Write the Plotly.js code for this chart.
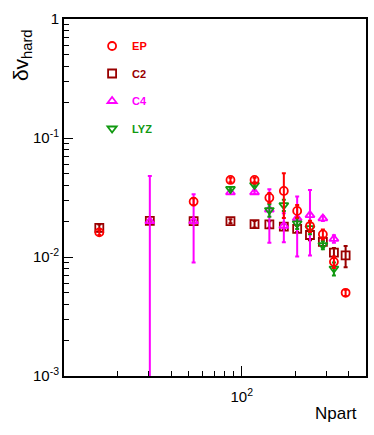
<!DOCTYPE html>
<html>
<head>
<meta charset="utf-8">
<script src="https://cdn.plot.ly/plotly-3.0.1.min.js"></script>
<style>html,body{margin:0;padding:0;background:#fff;}#chart{width:374px;height:435px;}</style>
</head>
<body>
<div id="chart"></div>
<script>
// Npart positions of the centrality bins
var npart = [15.8, 30.4, 53.6, 86.4, 118, 143, 172.5, 205, 242, 286, 330, 384];

// EP
var epVal   = [0.0161, null, 0.0292, 0.0444, 0.0444, 0.0315, 0.0359, 0.0244, 0.0182, 0.0155, 0.0091, 0.0050];
var epErr   = [0.0008, null, 0.0020, 0.0020, 0.0020, 0.0030, 0.0146, 0.0030, 0.0020, 0.0015, 0.0010, 0.0003];
// C2
var c2Val   = [0.0176, 0.0201, 0.0200, 0.0200, 0.0189, 0.0188, 0.0180, 0.0172, 0.0153, 0.0134, 0.0109, 0.0103];
var c2Err   = [0.0012, 0.0005, 0.0005, 0.0008, 0.0012, 0.0012, 0.0010, 0.0010, 0.0015, 0.0012, 0.0010, 0.0021];
// C4
var c4Val   = [null, 0.0200, 0.0200, 0.0349, 0.0350, 0.0250, 0.0183, 0.0212, 0.0225, 0.0211, 0.0142, null];
var c4ErrUp = [null, 0.0280, 0.0136, 0.0010, 0.0010, 0.0121, 0.0050, 0.0110, 0.0140, 0.0010, 0.0010, null];
var c4ErrDn = [null, 0.0280, 0.0110, 0.0010, 0.0010, 0.0118, 0.0050, 0.0111, 0.0122, 0.0010, 0.0010, null];
// LYZ
var lyzVal  = [null, null, null, 0.0373, 0.0403, 0.0248, 0.0273, 0.0192, 0.0175, 0.0126, 0.0080, null];
var lyzErr  = [null, null, null, 0.0010, 0.0010, 0.0030, 0.0030, 0.0020, 0.0020, 0.0010, 0.0010, null];

var yTickVals = [1, 0.1, 0.01, 0.001];
var yTickText = ['1', '10<sup>-1</sup>', '10<sup>-2</sup>', '10<sup>-3</sup>'];
var xTickVals = [100];
var xTickText = ['10<sup>2</sup>'];
var xMinor = [20, 30, 40, 50, 60, 70, 80, 90, 200, 300, 400];
var yMinor = [];
[0.001, 0.01, 0.1].forEach(function (d) { for (var k = 2; k <= 9; k++) yMinor.push(d * k); });

var cEP = '#ff0000', cC2 = '#990000', cC4 = '#ff00ff', cLYZ = '#119911';

function tr(name, color, symbol, y, errUp, errDn, rank) {
  return {
    type: 'scatter', mode: 'markers', x: npart, y: y, name: name,
    legendrank: rank, legendgroup: 'g' + rank,
    marker: {symbol: symbol, size: 8, color: color, line: {color: color, width: 1.8}},
    error_y: {type: 'data', symmetric: false, array: errUp, arrayminus: errDn,
              color: color, thickness: 2, width: 2},
    cliponaxis: true
  };
}
var lbl = function (t, c) { return '<span style="color:' + c + '"><b>' + t + '</b></span>'; };

var data = [
  tr(lbl('C2', cC2), cC2, 'square-open', c2Val, c2Err, c2Err, 2),
  tr(lbl('C4', cC4), cC4, 'triangle-up-open', c4Val, c4ErrUp, c4ErrDn, 3),
  tr(lbl('LYZ', cLYZ), cLYZ, 'triangle-down-open', lyzVal, lyzErr, lyzErr, 4),
  tr(lbl('EP', cEP), cEP, 'circle-open', epVal, epErr, epErr, 1)
];

var layout = {
  width: 374, height: 435,
  margin: {l: 64, r: 8, t: 19, b: 59},
  paper_bgcolor: '#fff', plot_bgcolor: '#fff',
  font: {family: 'Liberation Sans, Arial, sans-serif', color: '#000'},
  showlegend: true,
  legend: {x: 0.093, y: 0.965, xanchor: 'left', yanchor: 'top', bgcolor: 'rgba(0,0,0,0)',
           borderwidth: 0, tracegroupgap: 8.5, traceorder: 'grouped',
           font: {size: 11, family: 'Liberation Sans, Arial, sans-serif'}},
  xaxis: {type: 'log', range: [1, 2.699], showgrid: false, zeroline: false,
          showline: true, linewidth: 2, linecolor: '#000', mirror: true,
          ticks: 'inside', ticklen: 10, tickwidth: 1, tickcolor: '#000',
          tickmode: 'array', tickvals: xTickVals, ticktext: xTickText,
          tickfont: {size: 15}, ticklabelstandoff: 6,
          minor: {tickmode: 'array', tickvals: xMinor, ticks: 'inside', ticklen: 5, tickwidth: 1, tickcolor: '#000', showgrid: false}},
  yaxis: {type: 'log', range: [-3, 0], showgrid: false, zeroline: false,
          showline: true, linewidth: 2, linecolor: '#000', mirror: true,
          ticks: 'inside', ticklen: 9, tickwidth: 1, tickcolor: '#000',
          tickmode: 'array', tickvals: yTickVals, ticktext: yTickText,
          tickfont: {size: 15},
          minor: {tickmode: 'array', tickvals: yMinor, ticks: 'inside', ticklen: 5, tickwidth: 1, tickcolor: '#000', showgrid: false}},
  annotations: [
    {text: 'δv<sub>hard</sub>', xref: 'paper', yref: 'paper', x: -0.139, y: 0.899,
     xanchor: 'center', yanchor: 'middle', textangle: -90, showarrow: false,
     font: {size: 21, family: 'Liberation Sans, Arial, sans-serif', color: '#000'}},
    {text: 'Npart', xref: 'paper', yref: 'paper', x: 0.977, y: -0.104,
     xanchor: 'right', yanchor: 'middle', showarrow: false,
     font: {size: 17, family: 'Liberation Sans, Arial, sans-serif', color: '#000'}}
  ]
};

Plotly.newPlot('chart', data, layout, {staticPlot: true, displayModeBar: false});
</script>
</body>
</html>
